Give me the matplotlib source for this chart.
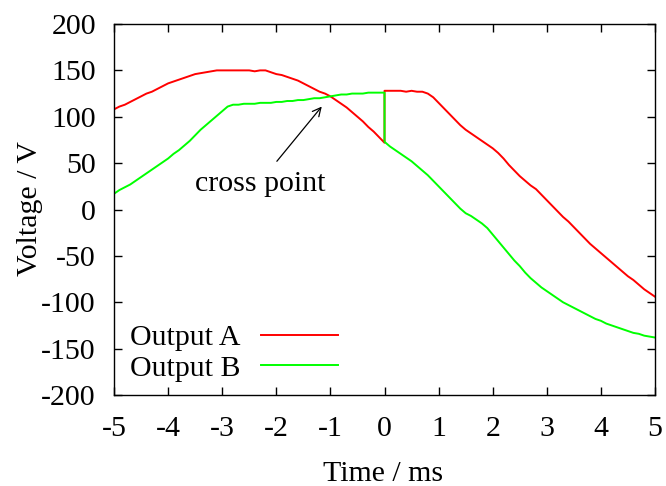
import matplotlib
matplotlib.use("Agg")
import matplotlib.pyplot as plt

# ---------- Data ----------
# time in ms, before and after the switch at t = 0
time_left = [-5.0, -4.9, -4.8, -4.7, -4.6, -4.5, -4.4, -4.3, -4.2, -4.1,
             -4.0, -3.9, -3.8, -3.7, -3.6, -3.5, -3.4, -3.3, -3.2, -3.1,
             -3.0, -2.9, -2.8, -2.7, -2.6, -2.5, -2.4, -2.3, -2.2, -2.1,
             -2.0, -1.9, -1.8, -1.7, -1.6, -1.5, -1.4, -1.3, -1.2, -1.1,
             -1.0, -0.9, -0.8, -0.7, -0.6, -0.5, -0.4, -0.3, -0.2, -0.1,
             0.0]
time_right = [0.0, 0.1, 0.2, 0.3, 0.4, 0.5, 0.6, 0.7, 0.8, 0.9,
              1.0, 1.1, 1.2, 1.3, 1.4, 1.5, 1.6, 1.7, 1.8, 1.9,
              2.0, 2.1, 2.2, 2.3, 2.4, 2.5, 2.6, 2.7, 2.8, 2.9,
              3.0, 3.1, 3.2, 3.3, 3.4, 3.5, 3.6, 3.7, 3.8, 3.9,
              4.0, 4.1, 4.2, 4.3, 4.4, 4.5, 4.6, 4.7, 4.8, 4.9,
              5.0]

output_a_left = [108, 111, 113, 116, 119, 122, 125, 127, 130, 133,
                 136, 138, 140, 142, 144, 146, 147, 148, 149, 150,
                 150, 150, 150, 150, 150, 150, 149, 150, 150, 148,
                 146, 145, 143, 141, 139, 136, 133, 130, 127, 125,
                 122, 118, 114, 110, 105, 100, 95, 89, 84, 78,
                 72]
output_a_right = [128, 128, 128, 128, 127, 128, 127, 127, 125, 121,
                  115, 109, 103, 97, 91, 86, 82, 78, 74, 70,
                  66, 61, 55, 48, 42, 36, 31, 26, 22, 16,
                  10, 4, -2, -8, -13, -19, -25, -31, -37, -42,
                  -47, -52, -57, -62, -67, -72, -76, -81, -86, -90,
                  -94]

output_b_left = [17, 21, 24, 27, 31, 35, 39, 43, 47, 51,
                 55, 60, 64, 69, 74, 80, 86, 91, 96, 101,
                 106, 111, 113, 113, 114, 114, 114, 115, 115, 115,
                 116, 116, 117, 117, 118, 118, 119, 120, 120, 121,
                 122, 123, 124, 124, 125, 125, 125, 126, 126, 126,
                 126]
output_b_right = [73, 68, 64, 60, 56, 52, 47, 42, 37, 31,
                  25, 19, 13, 7, 1, -4, -7, -11, -15, -20,
                  -27, -34, -41, -48, -55, -61, -68, -74, -79, -84,
                  -88, -92, -96, -100, -103, -106, -109, -112, -115, -118,
                  -120, -123, -125, -127, -129, -131, -133, -134, -136, -137,
                  -138]

x_ticks = [-5, -4, -3, -2, -1, 0, 1, 2, 3, 4, 5]
y_ticks = [-200, -150, -100, -50, 0, 50, 100, 150, 200]

cross_label = "cross point"
cross_text_pos = (-2.30, 20)
arrow_tail = (-1.99, 52)
arrow_head = (-1.16, 111)

# ---------- Style ----------
plt.rcParams["font.family"] = ["Liberation Serif", "DejaVu Serif"]
plt.rcParams["font.size"] = 21.5
plt.rcParams["axes.unicode_minus"] = False

RED = "#ff0000"
GREEN = "#00ff00"


def main():
    fig = plt.figure(figsize=(6.66, 4.86), dpi=100)
    ax = fig.add_axes([0.1712, 0.1872, 0.8123, 0.7634])

    ax.plot(time_left + time_right, output_a_left + output_a_right,
            color=RED, lw=1.4, label="Output A")
    ax.plot(time_left + time_right, output_b_left + output_b_right,
            color=GREEN, lw=1.4, label="Output B")

    ax.set_xlim(-5, 5)
    ax.set_ylim(-200, 200)
    ax.set_xticks(x_ticks)
    ax.set_yticks(y_ticks)
    ax.tick_params(direction="in", length=6, width=1, top=True, right=True)
    ax.tick_params(axis="x", pad=15)
    ax.tick_params(axis="y", pad=13)
    for s in ax.spines.values():
        s.set_linewidth(1)

    ax.annotate("", xy=arrow_head, xytext=arrow_tail,
                arrowprops=dict(arrowstyle="->", color="black", lw=0.9,
                                shrinkA=0, shrinkB=0, mutation_scale=15))
    ax.text(cross_text_pos[0], cross_text_pos[1], cross_label,
            ha="center", va="baseline")

    ax.legend(loc="upper left", bbox_to_anchor=(0.0296, 0.1900),
              frameon=False, markerfirst=False, borderpad=0,
              borderaxespad=0, handlelength=2.6, handletextpad=0.67,
              labelspacing=0.12)

    fig.text(383 / 666, 1 - 474 / 486, "Time / ms", ha="center", va="center")
    fig.text(30 / 666, 1 - 209 / 486, "Voltage / V", ha="center",
             va="center", rotation=90)

    fig.savefig("out.png", dpi=100)
    plt.close(fig)


if __name__ == "__main__":
    main()
